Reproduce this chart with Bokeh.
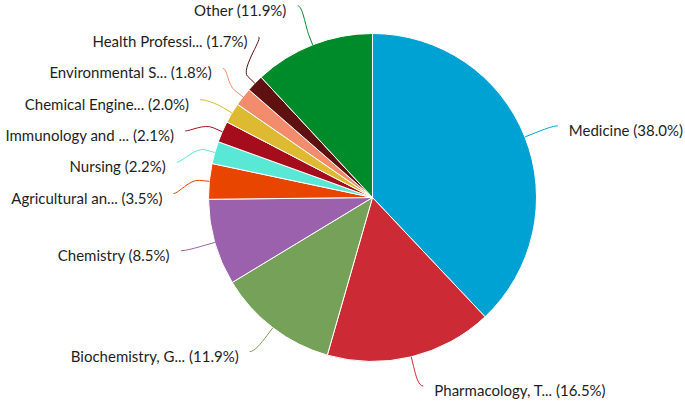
import math
from bokeh.plotting import figure
from bokeh.models import Range1d, ColumnDataSource
from bokeh.embed import file_html
from bokeh.resources import INLINE
from bokeh.core.properties import value

# ---- data ----
categories = ["Medicine", "Pharmacology, T...", "Biochemistry, G...", "Chemistry",
              "Agricultural an...", "Nursing", "Immunology and ...", "Chemical Engine...",
              "Environmental S...", "Health Professi...", "Other"]
shares = [38.0, 16.5, 11.9, 8.5, 3.5, 2.2, 2.1, 2.0, 1.8, 1.7, 11.9]
colors = ["#00a2d3", "#cc2b36", "#76a159", "#9b61ac", "#e84500", "#5ae8d6",
          "#a50d1c", "#deba33", "#f28c6c", "#5f1112", "#008b2b"]

# ---- layout (pixel space; data y = H - pixel y) ----
W, H = 685, 401
CX, CY = 372, 197          # pie centre in pixel coords
R = 164                    # pie radius
DIST = 30                  # label distance
BREAK = 10                 # straight connector part
SPACING = 31.3
TOP_LIMIT = 0.933          # fraction of label radius used for x of top labels
FONT = "Lato"
FONT_SIZE = "15px"

total = sum(shares)
starts, ends, mids = [], [], []
acc = 0.0
for s in shares:
    a0 = acc / total * 2 * math.pi
    acc += s
    a1 = acc / total * 2 * math.pi
    starts.append(a0); ends.append(a1); mids.append((a0 + a1) / 2)

p = figure(width=W, height=H, x_range=Range1d(0, W), y_range=Range1d(0, H),
           toolbar_location=None, output_backend="svg", min_border=0)
p.axis.visible = False
p.grid.visible = False
p.outline_line_color = None
p.background_fill_color = "white"

wsrc = ColumnDataSource(dict(
    start=[math.pi / 2 - a for a in starts],
    end=[math.pi / 2 - a for a in ends],
    color=colors,
))
p.wedge(x=CX, y=H - CY, radius=R, start_angle="start", end_angle="end",
        direction="clock", fill_color="color", line_color="white", line_width=1, source=wsrc)


def distribute(items, lo, hi):
    # items: list of (target, idx) sorted by target
    clusters = [[[t], [i]] for t, i in items]

    def start_of(c):
        n = len(c[0])
        st = sum(t - k * SPACING for k, t in enumerate(c[0])) / n
        return max(lo, min(hi - (n - 1) * SPACING, st))

    changed = True
    while changed:
        changed = False
        for k in range(len(clusters) - 1):
            a, b = clusters[k], clusters[k + 1]
            if start_of(b) < start_of(a) + len(a[0]) * SPACING:
                clusters[k] = [a[0] + b[0], a[1] + b[1]]
                del clusters[k + 1]
                changed = True
                break
    out = {}
    for c in clusters:
        st = start_of(c)
        for k, i in enumerate(c[1]):
            out[i] = st + k * SPACING
    return out


right, left = [], []
for i, m in enumerate(mids):
    ny = CY - (R + DIST) * math.cos(m)
    (right if m < math.pi else left).append((ny, i))
right.sort(); left.sort()
ypos = {}
ypos.update(distribute(right, 3, 388))
ypos.update(distribute(left, 3, 388))

tx, ty, tt, ta = [], [], [], []
bz = dict(x0=[], y0=[], x1=[], y1=[], cx0=[], cy0=[], cx1=[], cy1=[], c=[])
sg = dict(x0=[], y0=[], x1=[], y1=[], c=[])
RD = R + DIST
for i, m in enumerate(mids):
    side = 1 if m < math.pi else -1
    y = ypos[i]
    dy = max(y - CY, -TOP_LIMIT * RD)
    dx = math.sqrt(max(0.0, RD * RD - dy * dy))
    gx = CX + side * dx
    lx = gx + side * 5
    tx.append(gx + side * 16)
    ty.append(H - (y + 4))
    tt.append(f"{categories[i]} ({shares[i]:.1f}%)")
    ta.append("left" if side > 0 else "right")
    touch = (CX + R * math.sin(m), CY - R * math.cos(m))
    brk = (CX + (R + BREAK) * math.sin(m), CY - (R + BREAK) * math.cos(m))
    c1 = (lx - side * 5, y)
    c2 = (2 * brk[0] - touch[0], 2 * brk[1] - touch[1])
    bz["x0"].append(lx); bz["y0"].append(H - y)
    bz["x1"].append(brk[0]); bz["y1"].append(H - brk[1])
    bz["cx0"].append(c1[0]); bz["cy0"].append(H - c1[1])
    bz["cx1"].append(c2[0]); bz["cy1"].append(H - c2[1])
    bz["c"].append(colors[i])
    sg["x0"].append(brk[0]); sg["y0"].append(H - brk[1])
    sg["x1"].append(touch[0]); sg["y1"].append(H - touch[1])
    sg["c"].append(colors[i])

p.bezier(x0="x0", y0="y0", x1="x1", y1="y1", cx0="cx0", cy0="cy0", cx1="cx1", cy1="cy1",
         line_color="c", line_width=1, source=ColumnDataSource(bz))
p.segment(x0="x0", y0="y0", x1="x1", y1="y1", line_color="c", line_width=1,
          source=ColumnDataSource(sg))
p.text(x="x", y="y", text="t", text_align="a", text_baseline="middle",
       text_font=value(FONT), text_font_size=FONT_SIZE, text_color="#1e1e1e",
       source=ColumnDataSource(dict(x=tx, y=ty, t=tt, a=ta)))

open("out.html", "w").write(file_html(p, INLINE))
